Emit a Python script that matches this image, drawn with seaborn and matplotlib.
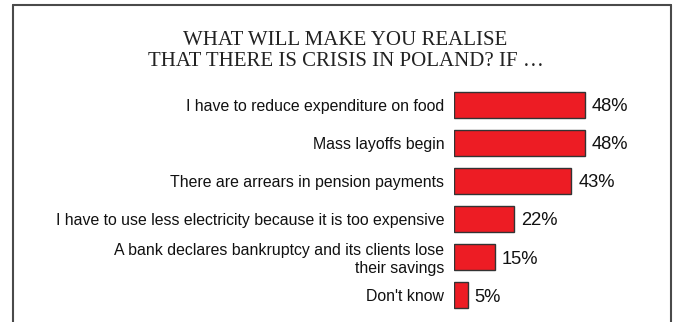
import matplotlib
matplotlib.use("Agg")
import matplotlib.pyplot as plt
from matplotlib.lines import Line2D
import seaborn as sns
import pandas as pd

categories = [
    "I have to reduce expenditure on food",
    "Mass layoffs begin",
    "There are arrears in pension payments",
    "I have to use less electricity because it is too expensive",
    "A bank declares bankruptcy and its clients lose\ntheir savings",
    "Don't know",
]
values = [48, 48, 43, 22, 15, 5]
value_labels = ["48%", "48%", "43%", "22%", "15%", "5%"]
title_lines = ["WHAT WILL MAKE YOU REALISE", "THAT THERE IS CRISIS IN POLAND? IF \u2026"]

df = pd.DataFrame({"answer": categories, "share": values})

sns.set_theme(style="white")
plt.rcParams["font.family"] = ["Liberation Sans", "DejaVu Sans"]

W, H = 675, 322
fig = plt.figure(figsize=(W / 100, H / 100), dpi=100)
fig.patch.set_facecolor("white")

# axes: bars start at x=454 px, 2.73 px per percent; rows 38 px apart
x0 = 454
xmax = 75
ax_w = 2.73 * xmax
y_top, y_bot = 86, 314
ax = fig.add_axes([x0 / W, (H - y_bot) / H, ax_w / W, (y_bot - y_top) / H])

sns.barplot(data=df, x="share", y="answer", orient="h", ax=ax,
            color="#ED1C24", saturation=1, width=0.7,
            edgecolor="#333333", linewidth=1.0)

ax.set_xlim(0, xmax)
ax.set_ylim(len(categories) - 0.5, -0.5)
ax.set_xlabel("")
ax.set_ylabel("")
ax.set_xticks([])
ax.tick_params(axis="y", length=0, pad=7, labelsize=11.4, labelcolor="#111111")
for lbl in ax.get_yticklabels():
    lbl.set_horizontalalignment("right")
    lbl.set_multialignment("right")
for s in ax.spines.values():
    s.set_visible(False)
ax.patch.set_alpha(0)

for i, (v, t) in enumerate(zip(values, value_labels)):
    ax.annotate(t, xy=(v, i), xytext=(5, 0), textcoords="offset points",
                ha="left", va="center_baseline", fontsize=13.2, color="#111111")

# title in serif capitals
fig.text(345.5 / W, 1 - 45 / H, title_lines[0], ha="center", va="baseline",
         fontsize=15, family="Liberation Serif", color="#222222")
fig.text(345.5 / W, 1 - 66.5 / H, title_lines[1], ha="center", va="baseline",
         fontsize=15, family="Liberation Serif", color="#222222")

# open frame around the chart
frame_kw = dict(color="#4a4a4a", linewidth=1.5, transform=fig.transFigure)
left, right, top = 12.5 / W, 670.5 / W, 1 - 5 / H
fig.add_artist(Line2D([left, left], [0, top], **frame_kw))
fig.add_artist(Line2D([right, right], [0, top], **frame_kw))
fig.add_artist(Line2D([left, right], [top, top], **frame_kw))

fig.savefig("out.png", dpi=100, facecolor="white")
